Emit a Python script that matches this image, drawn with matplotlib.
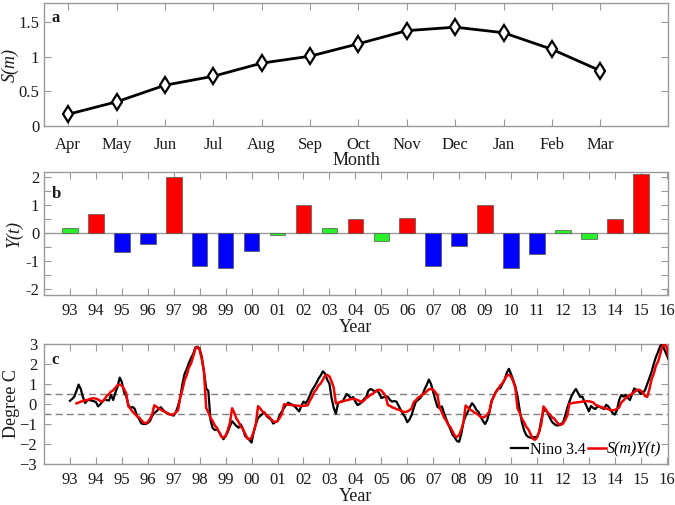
import numpy as np
import matplotlib
matplotlib.use("Agg")
import matplotlib.pyplot as plt

plt.rcParams['font.family'] = ['Liberation Serif', 'DejaVu Serif']
plt.rcParams['mathtext.fontset'] = 'stix'

# ---------------- data ----------------
months = ['Apr', 'May', 'Jun', 'Jul', 'Aug', 'Sep', 'Oct', 'Nov', 'Dec', 'Jan', 'Feb', 'Mar']
S_m = [0.17, 0.35, 0.59, 0.72, 0.91, 1.01, 1.19, 1.38, 1.43, 1.35, 1.11, 0.80]

years = list(range(1993, 2016))
Y_t = [0.20, 0.68, -0.67, -0.38, 2.00, -1.18, -1.24, -0.63, -0.07, 1.02, 0.18, 0.50,
       -0.28, 0.53, -1.15, -0.47, 1.02, -1.25, -0.73, 0.10, -0.22, 0.50, 2.10]
phase = ['N', 'E', 'L', 'L', 'E', 'L', 'L', 'L', 'N', 'E', 'N', 'E',
         'N', 'E', 'L', 'L', 'E', 'L', 'L', 'N', 'N', 'E', 'E']

year_ticks = list(range(1993, 2017))
year_labels = ['%02d' % (y % 100) for y in year_ticks]

# monthly Nino 3.4 index, Jan 1993 - Feb 2016
nino34 = [
    0.16, 0.25, 0.37, 0.65, 0.97, 0.75, 0.35, 0.05, 0.18, 0.20, 0.17, 0.14,      # 1993
    0.10, -0.12, -0.02, 0.12, 0.24, 0.20, 0.17, 0.45, 0.20, 0.56, 0.86, 1.32,    # 1994
    1.10, 0.60, 0.40, -0.04, -0.20, -0.15, -0.25, -0.60, -0.75, -0.97, -1.00, -1.00,  # 1995
    -0.95, -0.86, -0.60, -0.45, -0.37, -0.25, -0.16, -0.29, -0.40, -0.48, -0.50, -0.55,  # 1996
    -0.58, -0.40, -0.10, 0.30, 1.00, 1.50, 1.75, 2.04, 2.30, 2.50, 2.83, 2.86,   # 1997
    2.75, 2.35, 1.60, 0.78, 0.65, -0.80, -1.20, -1.30, -1.27, -1.40, -1.60, -1.76,  # 1998
    -1.60, -1.40, -1.10, -0.86, -0.98, -1.10, -1.19, -1.02, -1.24, -1.60, -1.68, -1.80,  # 1999
    -1.93, -1.40, -1.00, -0.70, -0.60, -0.50, -0.42, -0.61, -0.70, -0.78, -0.98, -0.90,  # 2000
    -0.86, -0.55, -0.37, -0.20, -0.04, 0.07, 0.00, -0.04, -0.12, -0.25, -0.37, -0.10,  # 2001
    0.12, 0.04, 0.20, 0.45, 0.70, 0.86, 1.05, 1.27, 1.43, 1.63, 1.52, 1.20,      # 2002
    1.02, 0.30, -0.20, -0.48, 0.04, 0.10, 0.12, 0.30, 0.50, 0.40, 0.29, 0.35,    # 2003
    0.12, -0.05, 0.00, 0.12, 0.25, 0.35, 0.66, 0.75, 0.70, 0.61, 0.66, 0.55,     # 2004
    0.30, 0.34, 0.35, 0.37, 0.20, 0.12, 0.15, 0.12, -0.09, -0.30, -0.50, -0.65,  # 2005
    -0.91, -0.78, -0.55, -0.20, 0.12, 0.20, 0.30, 0.45, 0.73, 0.95, 1.22, 1.00,  # 2006
    0.60, 0.20, -0.15, -0.20, -0.12, -0.45, -0.75, -1.02, -1.30, -1.55, -1.68, -1.85,  # 2007
    -1.89, -1.50, -0.90, -0.60, -0.40, -0.15, 0.04, -0.10, -0.30, -0.40, -0.65, -0.85,  # 2008
    -1.00, -0.80, -0.40, 0.10, 0.40, 0.60, 0.78, 0.78, 1.00, 1.20, 1.55, 1.76,   # 2009
    1.50, 1.20, 0.86, 0.40, -0.30, -0.90, -1.30, -1.55, -1.65, -1.68, -1.70, -1.65,  # 2010
    -1.65, -1.40, -0.80, -0.35, -0.30, -0.45, -0.70, -0.90, -1.00, -1.07, -1.07, -1.00,  # 2011
    -0.94, -0.60, -0.20, 0.12, 0.40, 0.60, 0.75, 0.55, 0.35, 0.37, 0.10, -0.12,  # 2012
    -0.37, -0.10, -0.20, -0.25, -0.12, -0.15, -0.20, -0.25, -0.04, -0.12, -0.30, -0.45,  # 2013
    -0.53, -0.30, 0.20, 0.45, 0.37, 0.45, 0.30, 0.20, 0.50, 0.78, 0.70, 0.65,    # 2014
    0.50, 0.55, 0.70, 1.00, 1.30, 1.60, 2.00, 2.35, 2.60, 2.90, 2.99, 2.70,      # 2015
    2.45, 2.20,                                                                   # 2016
]

# ---------------- style ----------------
SPINE = '#9a9a9a'
TXT = '#1a1a1a'
FS_TICK = 12
FS_LAB = 13

colors = {'E': '#ff0000', 'L': '#0000ff', 'N': '#2af02a'}

fig = plt.figure(figsize=(6.75, 5.05), dpi=100)
L, R = 44 / 675, 668 / 675
W = R - L
AXW_PX = 668 - 44


def pos(top, bottom):
    return [L, 1 - bottom / 505, W, (bottom - top) / 505]


ax1 = fig.add_axes(pos(3, 126))
ax2 = fig.add_axes(pos(171.5, 295))
ax3 = fig.add_axes(pos(344, 464))


def style(ax):
    for s in ax.spines.values():
        s.set_color(SPINE)
        s.set_linewidth(1.0)
    ax.tick_params(direction='in', top=True, right=True, color=SPINE,
                   labelcolor=TXT, labelsize=FS_TICK, length=5, width=0.8)


def place_ylabel(ax, center_px):
    ax.yaxis.label.set_va('center')
    ax.yaxis.set_label_coords((center_px - 44) / AXW_PX, 0.5)


# ---- panel a ----
xm = np.arange(1, 13)
ax1.plot(xm, S_m, color='k', lw=2, marker='d', ms=8, mfc='white', mec='k', mew=1.6)
ax1.set_xlim(0.5, 13.4)
ax1.set_ylim(0, 1.78)
ax1.set_xticks(xm)
ax1.set_xticklabels(months)
ax1.set_yticks([0, 0.5, 1, 1.5])
ax1.set_yticklabels(['0', '0.5', '1', '1.5'])
style(ax1)
ax1.tick_params(axis='x', pad=8)
ax1.set_xlabel('Month', fontsize=FS_LAB, color=TXT, labelpad=-1)
ax1.set_ylabel('S(m)', fontsize=FS_LAB, color=TXT, style='italic')
place_ylabel(ax1, 10)
ax1.text(0.012, 0.94, 'a', transform=ax1.transAxes, fontsize=12, fontweight='bold',
         va='top', ha='left', color=TXT)

# ---- panel b ----
ax2.axhline(0, color=SPINE, lw=1.0, zorder=1)
ax2.bar(years, Y_t, width=0.6, color=[colors[p] for p in phase],
        edgecolor='#555555', linewidth=0.5, zorder=2)
ax2.set_xlim(1992, 2016.05)
ax2.set_ylim(-2.2, 2.2)
ax2.set_xticks(year_ticks)
ax2.set_xticklabels(year_labels)
ax2.set_yticks(np.arange(-2, 2.01, 0.5))
ax2.set_yticklabels(['-2', '', '-1', '', '0', '', '1', '', '2'])
style(ax2)
ax2.tick_params(axis='x', pad=6)
ax2.set_xlabel('Year', fontsize=FS_LAB, color=TXT, labelpad=0)
ax2.set_ylabel('Y(t)', fontsize=FS_LAB, color=TXT, style='italic')
place_ylabel(ax2, 14)
ax2.text(0.012, 0.88, 'b', transform=ax2.transAxes, fontsize=12, fontweight='bold',
         va='top', ha='left', color=TXT)

# ---- panel c ----
t_nino = 1993 + np.arange(len(nino34)) / 12.0
t_rec = []
rec = []
for i, y in enumerate(years):
    for k in range(12):
        t_rec.append(y + (3 + k) / 12.0)
        rec.append(S_m[k] * Y_t[i])

ax3.axhline(0.5, color='#808080', lw=1.0, ls=(0, (5, 3)), zorder=1)
ax3.axhline(-0.5, color='#808080', lw=1.0, ls=(0, (5, 3)), zorder=1)
ax3.plot(t_nino, nino34, color='k', lw=1.6, label='Nino 3.4', zorder=3)
ax3.plot(t_rec, rec, color='#ee0000', lw=1.8, label='S(m)Y(t)', zorder=4)
ax3.set_xlim(1992, 2016.05)
ax3.set_ylim(-3, 3)
ax3.set_xticks(year_ticks)
ax3.set_xticklabels(year_labels)
ax3.set_yticks(np.arange(-3, 4, 1))
style(ax3)
ax3.tick_params(axis='x', pad=6)
ax3.tick_params(axis='y', pad=5)
ax3.set_xlabel('Year', fontsize=FS_LAB, color=TXT, labelpad=0)
ax3.set_ylabel('Degree C', fontsize=FS_LAB, color=TXT)
place_ylabel(ax3, 12)
ax3.text(0.012, 0.93, 'c', transform=ax3.transAxes, fontsize=12, fontweight='bold',
         va='top', ha='left', color=TXT)
leg = ax3.legend(loc='lower right', ncol=2, frameon=False, fontsize=11.5,
                 handlelength=1.1, handletextpad=0.1, columnspacing=0.15,
                 borderaxespad=0.2, borderpad=0.2)
leg.get_texts()[1].set_fontstyle('italic')

fig.savefig('out.png', dpi=100)
